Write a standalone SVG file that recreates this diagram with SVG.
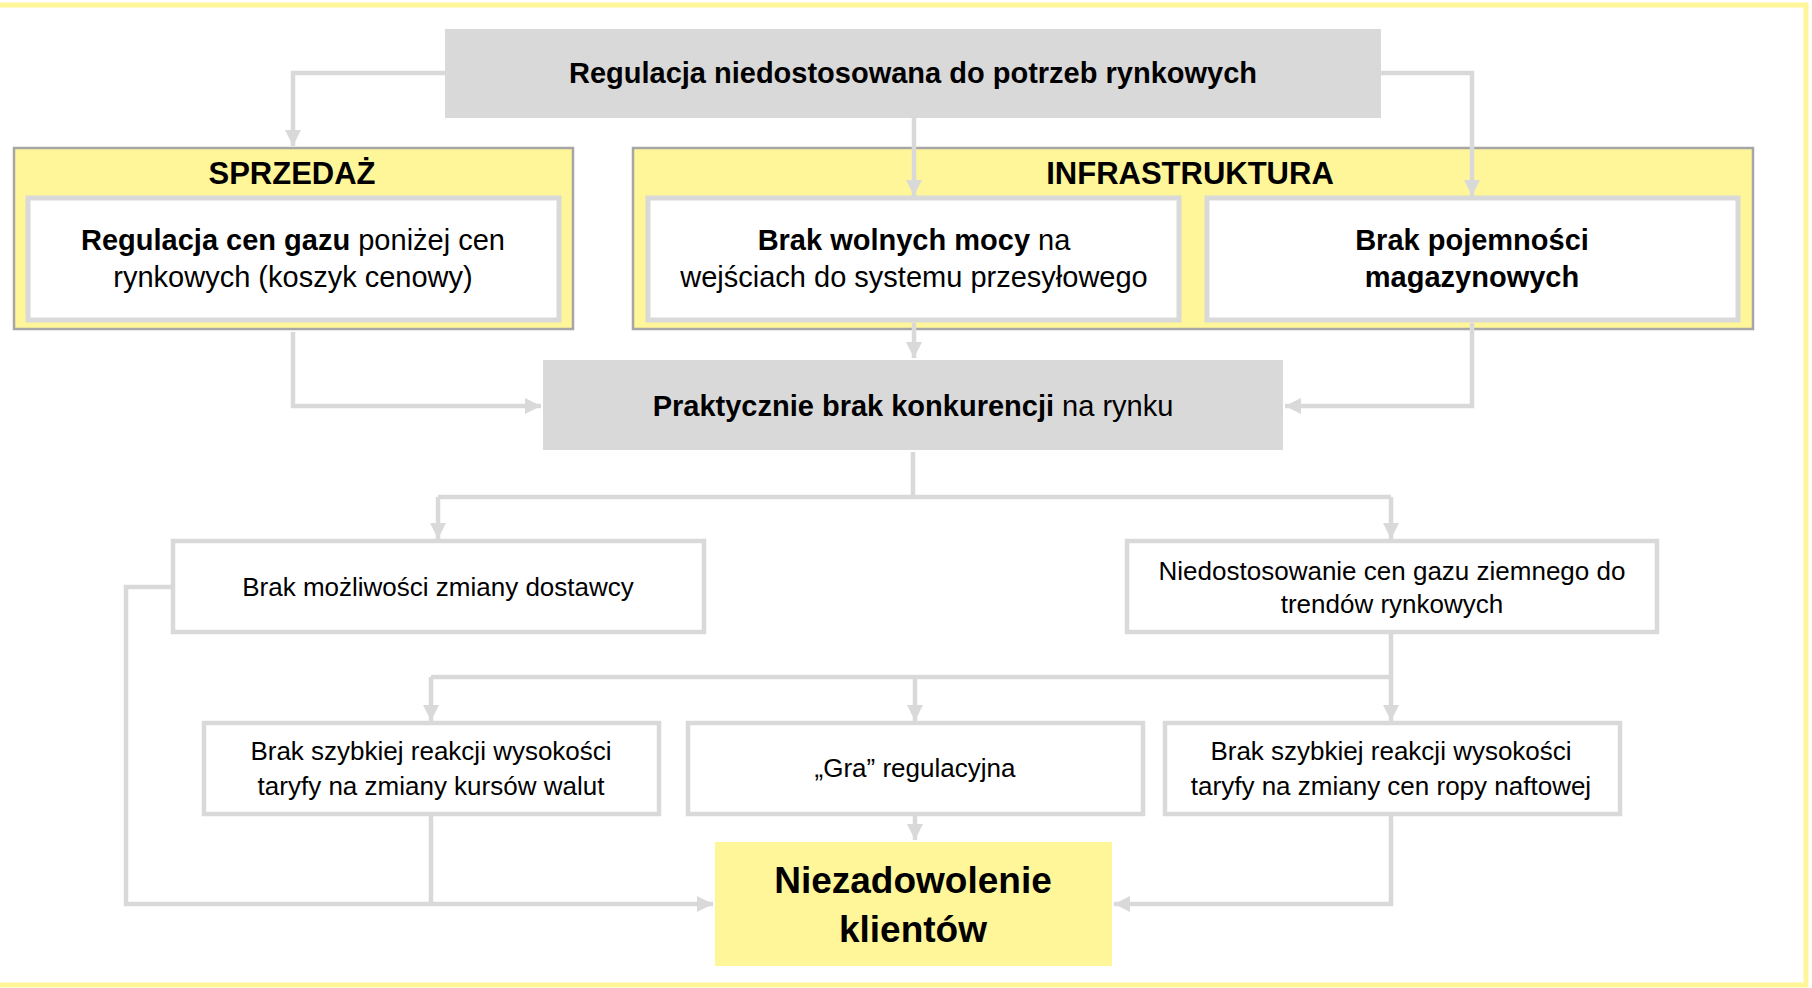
<svg xmlns="http://www.w3.org/2000/svg" width="1812" height="988" viewBox="0 0 1812 988">
<style>
  text { font-family: "Liberation Sans", Arial, sans-serif; fill: #000; text-anchor: middle; }
  .b { font-weight: bold; }
  .h { font-size: 31px; font-weight: bold; }
  .t { font-size: 29px; }
  .s { font-size: 26px; }
  .big { font-size: 37px; font-weight: bold; }
  .gray { fill: #d9d9d9; }
  .grp { fill: #fff599; stroke: #a6a6a6; stroke-width: 2.5; }
  .inner { fill: #fff; stroke: #d9d9d9; stroke-width: 5; }
  .box { fill: #fff; stroke: #d9d9d9; stroke-width: 4.5; }
  .yel { fill: #fff599; }
  .con { fill: none; stroke: #d9d9d9; stroke-width: 4.5; stroke-linejoin: miter; }
</style>
<defs>
  <marker id="arr" markerUnits="userSpaceOnUse" markerWidth="16" markerHeight="16" viewBox="0 0 16 16" refX="16" refY="8" orient="auto">
    <path d="M0,0 L16,8 L0,16 Z" fill="#d9d9d9"/>
  </marker>
</defs>
<rect x="0" y="0" width="1812" height="988" fill="#fff"/>
<path d="M0,5 H1806 V985 H0" fill="none" stroke="#fff599" stroke-width="5"/>

<g id="top">
  <rect class="gray" x="445" y="29" width="936" height="89"/>
  <text class="t b" x="913" y="83">Regulacja niedostosowana do potrzeb rynkowych</text>
</g>

<g id="sprzedaz">
  <rect class="grp" x="14" y="148" width="559" height="181"/>
  <text class="h" x="292" y="184">SPRZEDAŻ</text>
</g>
<g id="regulacja-cen">
  <rect class="inner" x="28" y="198" width="531" height="122"/>
  <text class="t" x="293" y="250"><tspan class="b">Regulacja cen gazu</tspan> poniżej cen</text>
  <text class="t" x="293" y="287">rynkowych (koszyk cenowy)</text>
</g>

<g id="infrastruktura">
  <rect class="grp" x="633" y="148" width="1120" height="181"/>
  <text class="h" x="1190" y="184">INFRASTRUKTURA</text>
</g>
<g id="brak-mocy">
  <rect class="inner" x="648" y="198" width="531" height="122"/>
  <text class="t" x="914" y="250"><tspan class="b">Brak wolnych mocy</tspan> na</text>
  <text class="t" x="914" y="287">wejściach do systemu przesyłowego</text>
</g>
<g id="brak-pojemnosci">
  <rect class="inner" x="1207" y="198" width="531" height="122"/>
  <text class="t b" x="1472" y="250">Brak pojemności</text>
  <text class="t b" x="1472" y="287">magazynowych</text>
</g>

<g id="konkurencja">
  <rect class="gray" x="543" y="360" width="740" height="90"/>
  <text class="t" x="913" y="416"><tspan class="b">Praktycznie brak konkurencji</tspan> na rynku</text>
</g>

<g id="dostawca">
  <rect class="box" x="173" y="541" width="531" height="91"/>
  <text class="s" x="438" y="596">Brak możliwości zmiany dostawcy</text>
</g>
<g id="niedostosowanie">
  <rect class="box" x="1127" y="541" width="530" height="91"/>
  <text class="s" x="1392" y="580">Niedostosowanie cen gazu ziemnego do</text>
  <text class="s" x="1392" y="613">trendów rynkowych</text>
</g>

<g id="kursy">
  <rect class="box" x="204" y="723" width="455" height="91"/>
  <text class="s" x="431" y="760">Brak szybkiej reakcji wysokości</text>
  <text class="s" x="431" y="795">taryfy na zmiany kursów walut</text>
</g>
<g id="gra">
  <rect class="box" x="688" y="723" width="455" height="91"/>
  <text class="s" x="915" y="777">„Gra” regulacyjna</text>
</g>
<g id="ropa">
  <rect class="box" x="1165" y="723" width="455" height="91"/>
  <text class="s" x="1391" y="760">Brak szybkiej reakcji wysokości</text>
  <text class="s" x="1391" y="795">taryfy na zmiany cen ropy naftowej</text>
</g>

<g id="niezadowolenie">
  <rect class="yel" x="715" y="842" width="397" height="124"/>
  <text class="big" x="913" y="893">Niezadowolenie</text>
  <text class="big" x="913" y="942">klientów</text>
</g>

<g id="connectors">
  <path class="con" d="M445,73 H293 V146" marker-end="url(#arr)"/>
  <path class="con" d="M914,118 V196" marker-end="url(#arr)"/>
  <path class="con" d="M1381,73 H1472 V196" marker-end="url(#arr)"/>
  <path class="con" d="M293,332 V406 H541" marker-end="url(#arr)"/>
  <path class="con" d="M914,323 V358" marker-end="url(#arr)"/>
  <path class="con" d="M1472,323 V406 H1285" marker-end="url(#arr)"/>
  <path class="con" d="M913,452 V497"/>
  <path class="con" d="M438,497 H1391"/>
  <path class="con" d="M438,497 V539" marker-end="url(#arr)"/>
  <path class="con" d="M1391,497 V539" marker-end="url(#arr)"/>
  <path class="con" d="M1391,634 V677"/>
  <path class="con" d="M431,677 H1391"/>
  <path class="con" d="M431,677 V721" marker-end="url(#arr)"/>
  <path class="con" d="M915,677 V721" marker-end="url(#arr)"/>
  <path class="con" d="M1391,677 V721" marker-end="url(#arr)"/>
  <path class="con" d="M915,816 V840" marker-end="url(#arr)"/>
  <path class="con" d="M171,587 H126 V904 H713" marker-end="url(#arr)"/>
  <path class="con" d="M431,816 V904"/>
  <path class="con" d="M1391,816 V904 H1114" marker-end="url(#arr)"/>
</g>
</svg>
